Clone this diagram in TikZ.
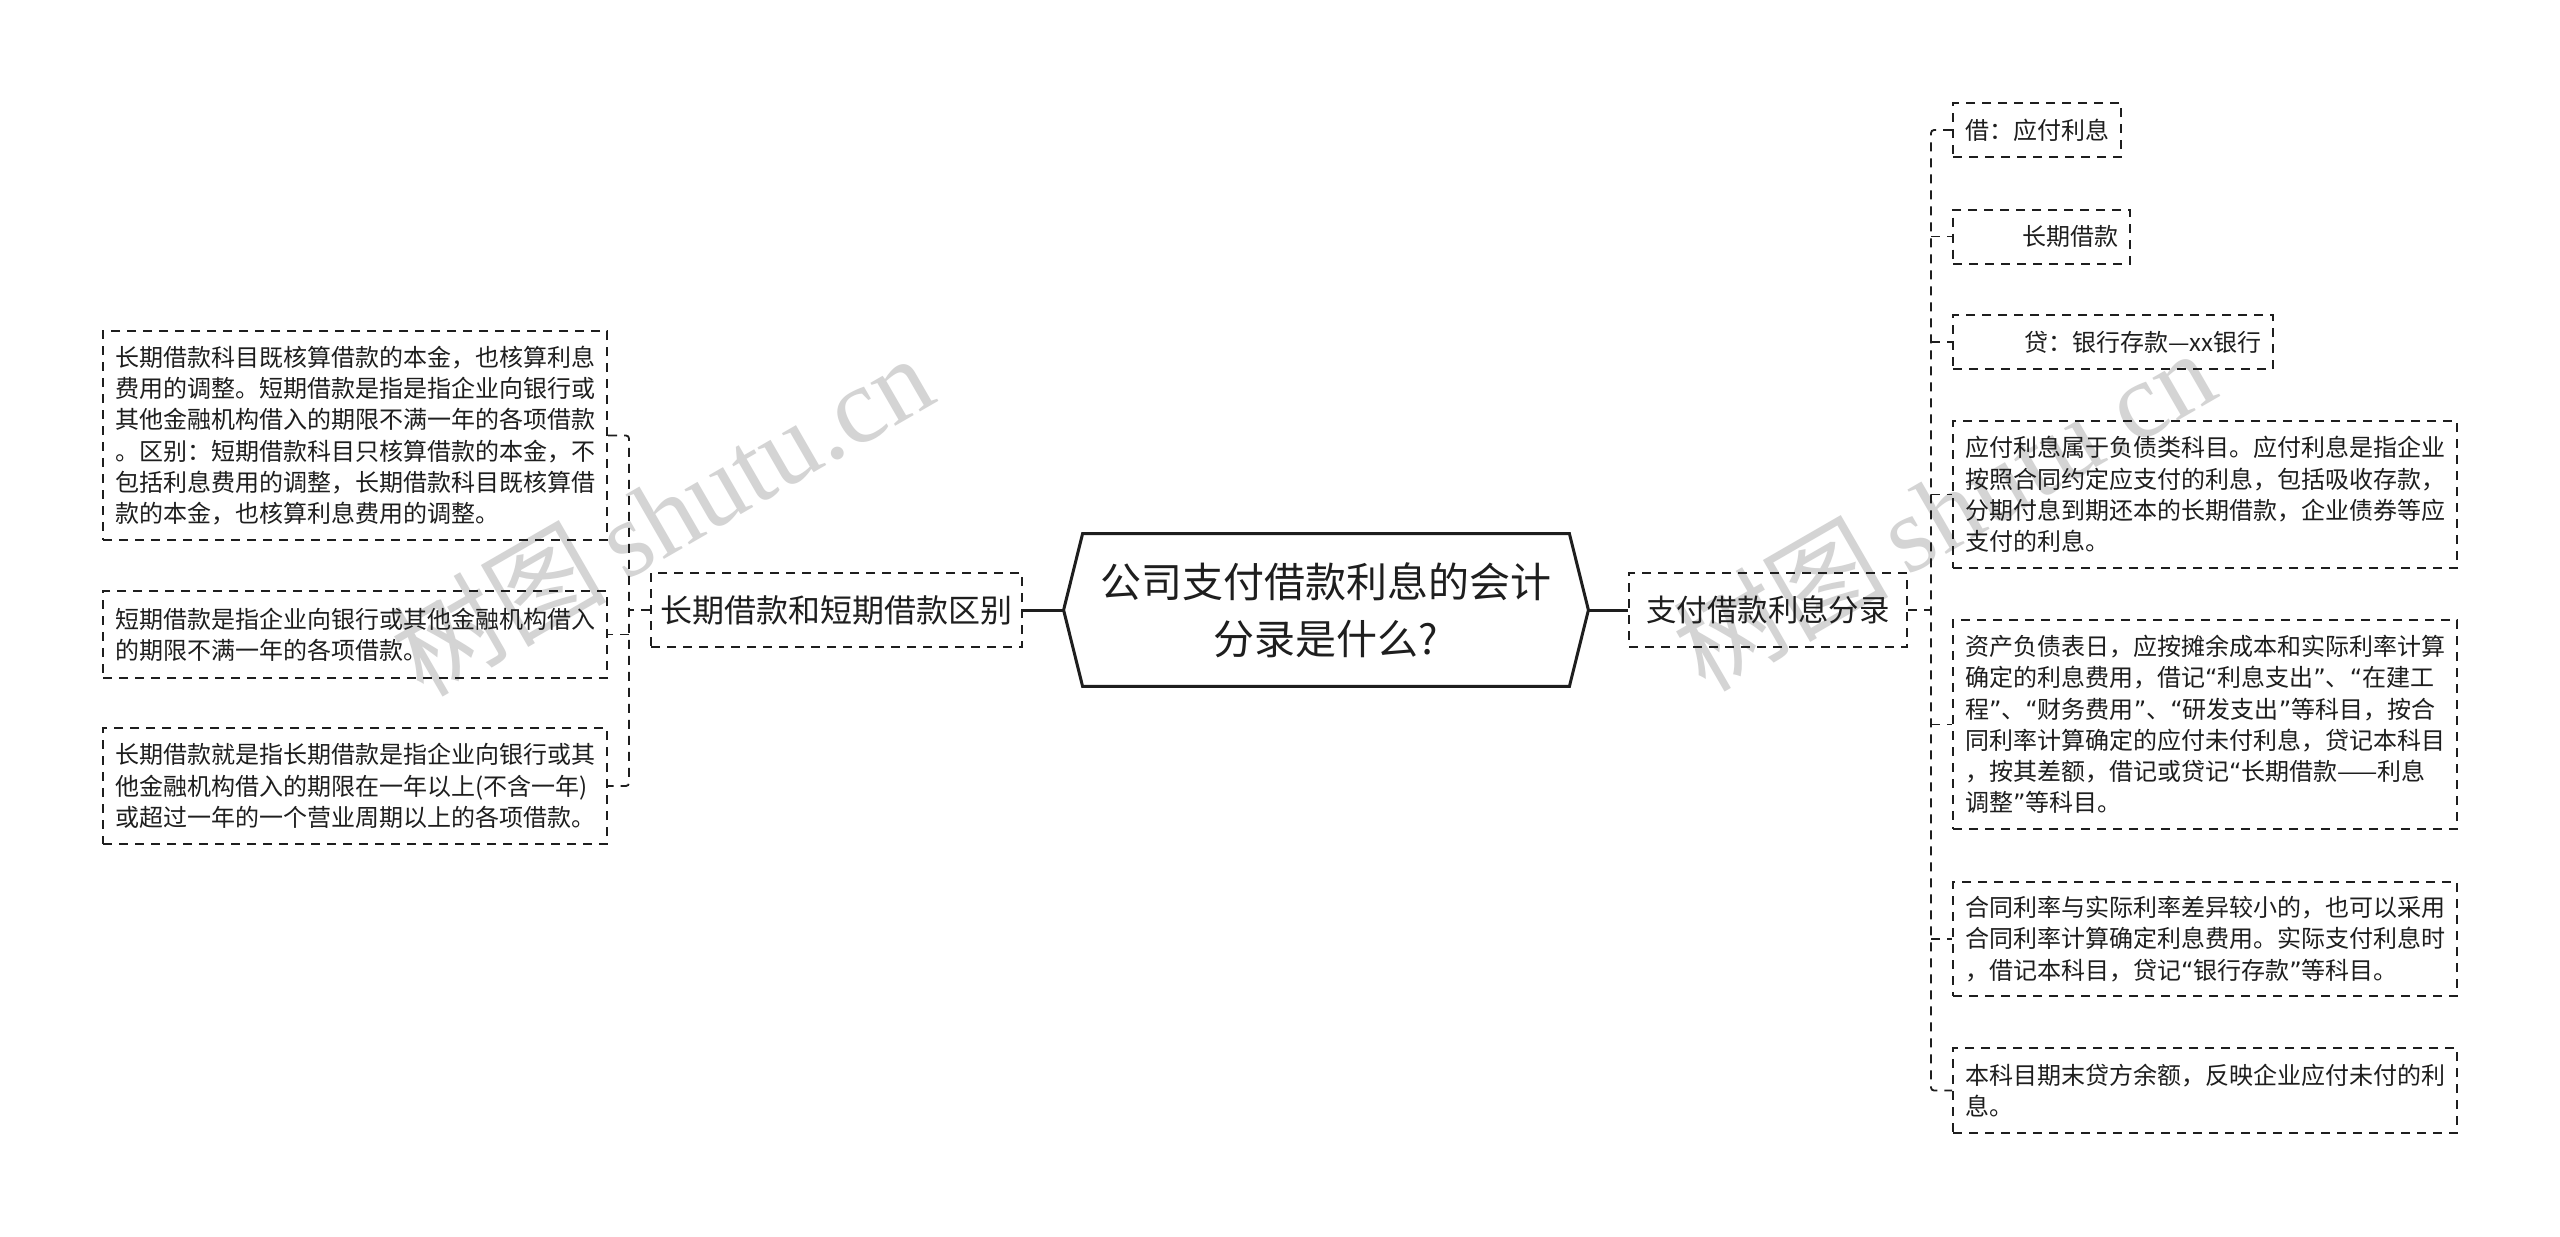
\documentclass[tikz,border=0pt]{standalone}
\usepackage{fontspec}
\setmainfont{Noto Sans CJK SC}
\newfontfamily\wmfont{Liberation Serif}
\newfontfamily\qtfont{DejaVu Sans}
\newcommand\myoq{{\qtfont “}}
\newcommand\mycq{{\qtfont ”}}
\usetikzlibrary{calc}
\definecolor{ink}{HTML}{1E1E1E}
\definecolor{wmgray}{HTML}{D4D4D4}
\tikzset{
  boxline/.style={draw=ink, line width=1pt, dash pattern=on 4.5pt off 3.5pt},
  leaf/.style={boxline, text=ink, inner xsep=6pt, inner ysep=3pt,
    font=\fontsize{12pt}{15.6pt}\selectfont, align=left, text width=240pt},
  shortleaf/.style={boxline, text=ink, inner xsep=6pt, inner ysep=3pt,
    font=\fontsize{12pt}{15.6pt}\selectfont, minimum height=27pt},
  midnode/.style={boxline, text=ink, inner sep=0pt, minimum height=37pt},
  hub/.style={inner sep=0pt, minimum width=262pt, minimum height=76pt, align=center,
    text=ink, font=\fontsize{20.5pt}{28.5pt}\selectfont},
  hubline/.style={draw=ink, line width=1.5pt, line join=miter},
  mainconn/.style={draw=ink, line width=1.5pt},
  conn/.style={draw=ink, line width=0.9pt, dash pattern=on 4.5pt off 3.5pt, rounded corners=1.5pt},
  wm/.style={text=wmgray, inner sep=0pt}
}
\begin{document}
\begin{tikzpicture}[x=0.5pt,y=-0.5pt]
\useasboundingbox (0,0) rectangle (2560,1237);
\fill[white] (0,0) rectangle (2560,1237);

% watermarks
\node[wm, rotate=30] (wm1) at (661,514) {\fontsize{54pt}{54pt}\selectfont 树图\,{\wmfont shutu.cn}};
\node[wm, rotate=30] (wm2) at (1943,509) {\fontsize{54pt}{54pt}\selectfont 树图\,{\wmfont shutu.cn}};

% central node
\node[hub] (c) at (1326,610) {公司支付借款利息的会计\\分录是什么?};
\draw[hubline] (c.west) -- ($(c.north west)+(19,0)$) -- ($(c.north east)+(-19,0)$)
  -- (c.east) -- ($(c.south east)+(-19,0)$) -- ($(c.south west)+(19,0)$) -- cycle;

% mid nodes
\node[midnode, minimum width=185.5pt, font=\fontsize{16pt}{20pt}\selectfont] (ln) at (836.5,610) {长期借款和短期借款区别};
\node[midnode, minimum width=139pt, font=\fontsize{15.2pt}{20pt}\selectfont] (rn) at (1768,610) {支付借款利息分录};

\draw[mainconn] (c.west) -- (ln.east);
\draw[mainconn] (c.east) -- (rn.west);

% left leaves
\node[leaf, minimum height=104.5pt] (L1) at (355,435.5) {长期借款科目既核算借款的本金，也核算利息\\费用的调整。短期借款是指是指企业向银行或\\其他金融机构借入的期限不满一年的各项借款\\。区别：短期借款科目只核算借款的本金，不\\包括利息费用的调整，长期借款科目既核算借\\款的本金，也核算利息费用的调整。};
\node[leaf, minimum height=43.5pt] (L2) at (355,634.5) {短期借款是指企业向银行或其他金融机构借入\\的期限不满一年的各项借款。};
\node[leaf, minimum height=58pt] (L3) at (355,786) {长期借款就是指长期借款是指企业向银行或其\\他金融机构借入的期限在一年以上(不含一年)\\或超过一年的一个营业周期以上的各项借款。};

\coordinate (lj) at (629,610);
\draw[conn] (ln.west) -- (lj);
\draw[conn] (L1.east) -| (lj) |- (L3.east);
\draw[conn] (lj |- L2.east) -- (L2.east);

% right leaves
\node[shortleaf, minimum width=84pt, align=left, text width=72pt] (R1) at (2037,130) {借：应付利息};
\node[shortleaf, minimum width=88.5pt, align=right, text width=76.5pt] (R2) at (2041.5,236.5) {长期借款};
\node[shortleaf, minimum width=160pt, align=right, text width=148pt] (R3) at (2113,342) {贷：银行存款—xx银行};
\node[leaf, minimum height=73.5pt] (R4) at (2205,494.5) {应付利息属于负债类科目。应付利息是指企业\\按照合同约定应支付的利息，包括吸收存款，\\分期付息到期还本的长期借款，企业债券等应\\支付的利息。};
\node[leaf, minimum height=104.5pt] (R5) at (2205,724.5) {资产负债表日，应按摊余成本和实际利率计算\\确定的利息费用，借记\myoq 利息支出\mycq 、\myoq 在建工\\程\mycq 、\myoq 财务费用\mycq 、\myoq 研发支出\mycq 等科目，按合\\同利率计算确定的应付未付利息，贷记本科目\\，按其差额，借记或贷记\myoq 长期借款——利息\\调整\mycq 等科目。};
\node[leaf, minimum height=57pt] (R6) at (2205,939) {合同利率与实际利率差异较小的，也可以采用\\合同利率计算确定利息费用。实际支付利息时\\，借记本科目，贷记\myoq 银行存款\mycq 等科目。};
\node[leaf, minimum height=42.5pt] (R7) at (2205,1090.5) {本科目期末贷方余额，反映企业应付未付的利\\息。};

\coordinate (rj) at (1931,610);
\draw[conn] (rn.east) -- (rj);
\draw[conn] (R1.west) -| (rj) |- (R7.west);
\draw[conn] (rj |- R2.west) -- (R2.west);
\draw[conn] (rj |- R3.west) -- (R3.west);
\draw[conn] (rj |- R4.west) -- (R4.west);
\draw[conn] (rj |- R5.west) -- (R5.west);
\draw[conn] (rj |- R6.west) -- (R6.west);
\end{tikzpicture}
\end{document}
